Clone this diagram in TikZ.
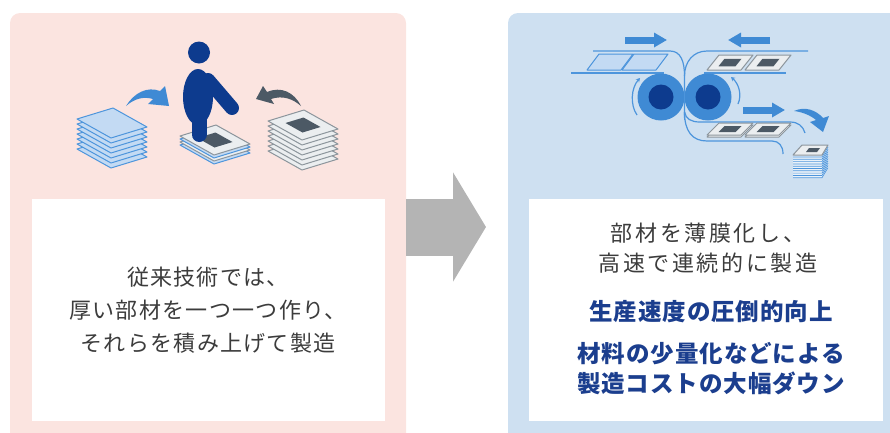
\documentclass[tikz,border=0pt]{standalone}
\usepackage{fontspec}
\newfontfamily\jp{Noto Sans CJK JP}[LetterSpace=6]
\newfontfamily\jpwide{Noto Sans CJK JP}[LetterSpace=12]
\newfontfamily\jpbold{Noto Sans CJK JP}[LetterSpace=4]
\usetikzlibrary{arrows.meta}

\definecolor{pinkbg}{HTML}{FBE4E0}
\definecolor{bluebg}{HTML}{CEE0F1}
\definecolor{arrowgray}{HTML}{B4B4B4}
\definecolor{textgray}{HTML}{3C3C3C}
\definecolor{navy}{HTML}{0D3B8E}
\definecolor{midblue}{HTML}{3F8AD4}
\definecolor{lineblue}{HTML}{4D95DC}
\definecolor{sheetblue}{HTML}{C3DAF3}
\definecolor{sheetgray}{HTML}{EBEEF0}
\definecolor{edgegray}{HTML}{8C959C}
\definecolor{slate}{HTML}{4C5965}
\definecolor{boldblue}{HTML}{1B3E8E}

% one sheet seen from above, #1 = left corner
\newcommand{\sheet}[2]{\filldraw[#2] #1 -- ++(36,-11) -- ++(34,19) -- ++(-36,11) -- cycle;}
% dark print on a sheet
\newcommand{\chip}[1]{\fill[slate] #1 ++(17.5,2) -- ++(18,-5.5) -- ++(17,9.5) -- ++(-18,5.5) -- cycle;}
% film on the line, #1 = lower left corner, #2 = height
\newcommand{\film}[3]{\filldraw[#3] #1 -- ++(34,0) -- ++(12,-#2) -- ++(-34,0) -- cycle;}
\newcommand{\filmchip}[2]{\fill[slate] #1 ++(11.5,-#2/4) -- ++(17,0) -- ++(6,-#2/2) -- ++(-17,0) -- cycle;}

\tikzset{
  panel/.style={rounded corners=10pt, inner sep=0pt, outer sep=0pt, anchor=north west},
  box/.style={fill=white, inner sep=0pt, outer sep=0pt, anchor=north west},
  bluesheet/.style={fill=sheetblue, draw=lineblue, line width=1pt, line join=round},
  graysheet/.style={fill=sheetgray, draw=edgegray, line width=1pt, line join=round},
  bluefilm/.style={fill=sheetblue, draw=lineblue, line width=1pt, line join=round},
  grayfilm/.style={fill=sheetgray, draw=edgegray, line width=1pt, line join=round},
  web/.style={draw=lineblue, line width=1.2pt},
  turn/.style={draw=lineblue, line width=1.2pt, -{Stealth[length=4pt,width=4.5pt]}},
  blockarrow/.style={draw=midblue, line width=7pt, -{Triangle[width=14pt,length=13pt]}},
  bigarrow/.style={draw=arrowgray, line width=57pt, -{Triangle[width=108pt,length=33pt]}},
  plain/.style={text=textgray, align=center, inner sep=0pt},
  strong/.style={text=boldblue, align=center, inner sep=0pt,
    font=\jpbold\bfseries\fontsize{23.5}{30}\selectfont},
}

\begin{document}
\begin{tikzpicture}[x=1pt,y=-1pt]
  \useasboundingbox (0,0) rectangle (890,432);
  \clip (0,0) rectangle (890,432);

  % two panels
  \node[panel, fill=pinkbg, minimum width=396pt, minimum height=440pt] (conv) at (10,13) {};
  \node[panel, fill=bluebg, minimum width=392pt, minimum height=440pt] (film) at (508,13) {};
  \node[box, minimum width=353pt, minimum height=222pt] (convbox) at (32,199) {};
  \node[box, minimum width=354pt, minimum height=222pt] (filmbox) at (529,199) {};

  \coordinate (arrtip) at (486,227);
  \draw[bigarrow] (conv.east |- arrtip) -- (arrtip);

  % stacking by hand
  \foreach \k in {6,...,0} {\sheet{(77,119+5*\k)}{bluesheet}}
  \foreach \k in {6,...,0} {\sheet{(268,121+5*\k)}{graysheet}}
  \chip{(268,121)}
  \sheet{(180,145)}{bluesheet}
  \sheet{(180,142)}{graysheet}
  \sheet{(180,139)}{bluesheet}
  \sheet{(180,136)}{graysheet}
  \chip{(180,136)}

  \fill[navy] (199,52.5) circle[radius=11];
  \fill[navy] (198,97) ellipse[x radius=15, y radius=28];
  \draw[navy, line width=15pt, line cap=round] (199,112) -- (199,134.5);
  \draw[navy, line width=14pt, line cap=round] (208,80) -- (232,108);

  \fill[midblue] (126,106) .. controls (134,93) and (147,86) .. (160,91) -- (165,86)
    -- (169,106) -- (148,104) -- (153,99) .. controls (143,96) and (134,99) .. cycle;
  \fill[slate] (301,106) .. controls (294,92) and (281,86) .. (267,92) -- (263,86)
    -- (256,99) -- (274,104) -- (271,99) .. controls (283,95) and (293,99) .. cycle;

  % roll to roll line
  \draw[web] (571,73) -- (664,73);
  \draw[web] (704,73) -- (786,73);
  \draw[web] (593,51) -- (670,51) .. controls (681,51) and (684.5,62) .. (684.5,76) -- (684.5,118);
  \draw[web] (808,51) -- (707,51) .. controls (693,51) and (684.5,62) .. (684.5,76);
  \draw[web] (684.5,112) .. controls (686,119) and (691,122) .. (700,122) -- (790,122)
    .. controls (798,122) and (803,126) .. (805,133);
  \draw[web] (684.5,112) .. controls (684.5,131) and (692,141) .. (707,141) -- (772,141)
    .. controls (779,141) and (783,146) .. (783,154);

  \film{(587,70)}{16}{bluefilm}
  \film{(622,70)}{16}{bluefilm}
  \foreach \x in {707,745} {
    \film{(\x,70)}{15}{grayfilm}
    \filmchip{(\x,70)}{15}
    \film{(\x,137)}{12}{grayfilm}
    \film{(\x,135)}{12}{grayfilm}
    \filmchip{(\x,135)}{12}
  }

  \foreach \x in {661,708} {
    \fill[midblue] (\x,97) circle[radius=23.5];
    \fill[navy] (\x,97) circle[radius=12.5];
  }
  \draw[web] (684.5,74) -- (684.5,120);
  \draw[turn] (637,115) .. controls (630,105) and (631,88) .. (640,78);
  \draw[turn] (738,104) .. controls (742,95) and (739,84) .. (731,77);

  \draw[blockarrow] (625,40) -- (667,40);
  \draw[blockarrow] (770,40) -- (728,40);
  \draw[blockarrow] (743,110) -- (785,110);
  \fill[midblue] (794,111) .. controls (805,106) and (816,110) .. (823,118) -- (829,116)
    -- (823,132) -- (810,122) -- (816,120) .. controls (810,115) and (802,112) .. cycle;

  % finished stack
  \fill[white!55!bluebg] (793,155) -- (822,155) -- (828,145) -- (828,168) -- (822,178) -- (793,178) -- cycle;
  \foreach \k in {0,...,9}
    \draw[lineblue, line width=0.7pt] (793,157+2.3*\k) -- (822,157+2.3*\k) -- (828,147+2.3*\k);
  \filldraw[grayfilm] (793,155) -- (822,155) -- (828,145) -- (802,145) -- cycle;
  \fill[slate] (806,152) -- (817,152) -- (820,148) -- (809,148) -- cycle;

  % texts
  \node[plain, font=\jp\fontsize{22}{33}\selectfont] (convnote) at (208,310)
    {従来技術では、\\厚い部材を一つ一つ作り、\\それらを積み上げて製造};
  \node[plain, font=\jpwide\fontsize{22}{30}\selectfont] (filmnote) at (708,248)
    {部材を薄膜化し、\\高速で連続的に製造};
  \node[strong] (speednote) at (711,312) {生産速度の圧倒的向上};
  \node[strong] (costnote) at (711,369) {材料の少量化などによる\\製造コストの大幅ダウン};
\end{tikzpicture}
\end{document}
